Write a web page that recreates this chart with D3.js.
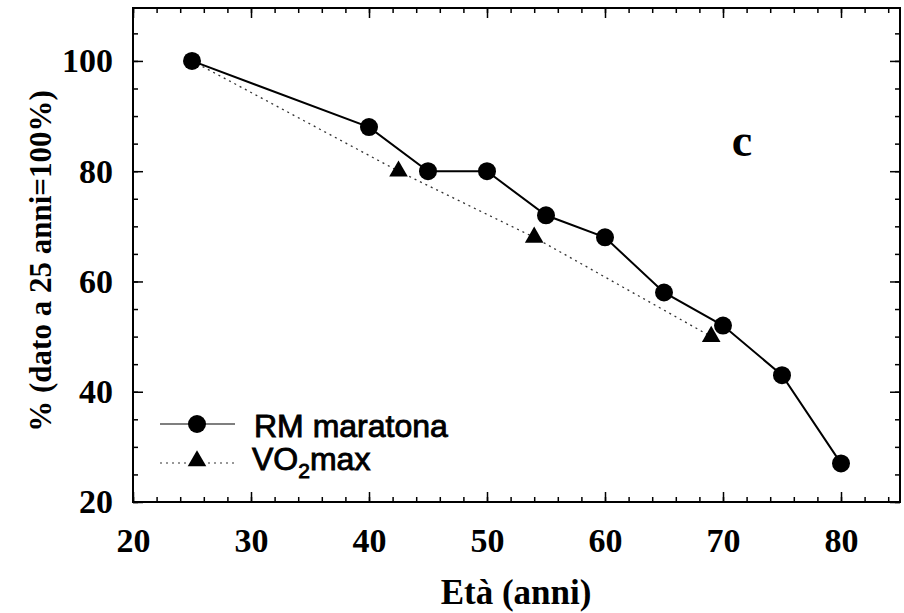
<!DOCTYPE html>
<html>
<head>
<meta charset="utf-8">
<script src="https://cdn.jsdelivr.net/npm/d3@7"></script>
<style>
  body { margin: 0; background: #fff; }
  svg { display: block; }
  .tick text { font-family: "Liberation Serif", "DejaVu Serif", serif; font-weight: bold; }
</style>
</head>
<body>
<div id="chart"></div>
<script>
// marathon record (circles, solid line)
const rmAge = [25, 40, 45, 50, 55, 60, 65, 70, 75, 80];
const rmPct = [100, 88, 80, 80, 72, 68, 58, 52, 43, 27];
// VO2max (triangles, dotted line)
const voAge = [25, 42.5, 54, 69];
const voPct = [100, 80, 68, 50];

const xTicks = [20, 30, 40, 50, 60, 70, 80];
const yTicks = [20, 40, 60, 80, 100];

const svgWidth = 904, svgHeight = 613;
const margin = { top: 8, right: 4, bottom: 111, left: 133 };
const width = svgWidth - margin.left - margin.right;
const height = svgHeight - margin.top - margin.bottom;

const svg = d3.select("#chart").append("svg")
    .attr("width", svgWidth)
    .attr("height", svgHeight);

const g = svg.append("g")
    .attr("transform", `translate(${margin.left},${margin.top})`);

const x = d3.scaleLinear().domain([20, 85]).range([0, width]);
const y = d3.scaleLinear().domain([20, 109.6]).range([height, 0]);

// minor ticks, inward on all four sides
const xMinor = d3.range(20, 86, 2);
const yMinor = d3.range(20, 110, 5);

function ticks(axisFn, scale, vals, len) {
    return axisFn(scale).tickValues(vals).tickSize(len).tickFormat("");
}

g.append("g").attr("transform", `translate(0,${height})`)
    .call(ticks(d3.axisTop, x, xMinor, 5));
g.append("g")
    .call(ticks(d3.axisBottom, x, xMinor, 5));
g.append("g")
    .call(ticks(d3.axisRight, y, yMinor, 5));
g.append("g").attr("transform", `translate(${width},0)`)
    .call(ticks(d3.axisLeft, y, yMinor, 5));

// major ticks
g.append("g").attr("transform", `translate(0,${height})`)
    .call(ticks(d3.axisTop, x, xTicks, 10));
g.append("g")
    .call(ticks(d3.axisBottom, x, xTicks, 10));
g.append("g")
    .call(ticks(d3.axisRight, y, yTicks, 10));
g.append("g").attr("transform", `translate(${width},0)`)
    .call(ticks(d3.axisLeft, y, yTicks, 10));

g.selectAll(".domain").remove();
g.selectAll(".tick line").attr("stroke", "#000").attr("stroke-width", 1.5);

// frame
g.append("rect")
    .attr("width", width).attr("height", height)
    .attr("fill", "none").attr("stroke", "#000").attr("stroke-width", 2);

// tick labels
const xLab = g.append("g").attr("transform", `translate(0,${height})`)
    .call(d3.axisBottom(x).tickValues(xTicks).tickSize(0).tickPadding(26));
xLab.select(".domain").remove();
xLab.selectAll("text").attr("font-size", 34).attr("fill", "#000");

const yLab = g.append("g")
    .call(d3.axisLeft(y).tickValues(yTicks).tickSize(0).tickPadding(20));
yLab.select(".domain").remove();
yLab.selectAll("text").attr("font-size", 34).attr("fill", "#000");

// axis titles
svg.append("text")
    .attr("x", 516).attr("y", 604)
    .attr("text-anchor", "middle")
    .attr("font-family", "Liberation Serif, serif").attr("font-weight", "bold")
    .attr("font-size", 35)
    .text("Età (anni)");

svg.append("text")
    .attr("transform", "translate(51,261) rotate(-90)")
    .attr("text-anchor", "middle")
    .attr("font-family", "Liberation Serif, serif").attr("font-weight", "bold")
    .attr("font-size", 31)
    .text("% (dato a 25 anni=100%)");

// panel letter
svg.append("text")
    .attr("x", 742).attr("y", 156)
    .attr("text-anchor", "middle")
    .attr("font-family", "Liberation Serif, serif").attr("font-weight", "bold")
    .attr("font-size", 46)
    .text("c");

const rm = rmAge.map((a, i) => ({ a, v: rmPct[i] }));
const vo = voAge.map((a, i) => ({ a, v: voPct[i] }));
const line = d3.line().x(d => x(d.a)).y(d => y(d.v));
const tri = d3.symbol().type(d3.symbolTriangle).size(150);

// VO2max dotted line
g.append("path").datum(vo)
    .attr("d", line)
    .attr("fill", "none").attr("stroke", "#333")
    .attr("stroke-width", 1.3).attr("stroke-dasharray", "2,4");

// marathon solid line
g.append("path").datum(rm)
    .attr("d", line)
    .attr("fill", "none").attr("stroke", "#000").attr("stroke-width", 2);

g.selectAll(".tri").data(vo.slice(1)).enter().append("path")
    .attr("class", "tri")
    .attr("transform", d => `translate(${x(d.a)},${y(d.v)})`)
    .attr("d", tri).attr("fill", "#000");

g.selectAll(".dot").data(rm).enter().append("circle")
    .attr("class", "dot")
    .attr("cx", d => x(d.a)).attr("cy", d => y(d.v))
    .attr("r", 9).attr("fill", "#000");

// legend
const leg = svg.append("g");
leg.append("line").attr("x1", 160).attr("x2", 235).attr("y1", 424).attr("y2", 424)
    .attr("stroke", "#000").attr("stroke-width", 1.2);
leg.append("circle").attr("cx", 197).attr("cy", 424).attr("r", 9).attr("fill", "#000");
leg.append("text").attr("x", 254).attr("y", 437)
    .attr("font-family", "Liberation Sans, Arial, sans-serif").attr("font-size", 32)
    .attr("stroke", "#000").attr("stroke-width", 0.9)
    .text("RM maratona");

leg.append("line").attr("x1", 160).attr("x2", 235).attr("y1", 463).attr("y2", 463)
    .attr("stroke", "#333").attr("stroke-width", 1.2).attr("stroke-dasharray", "2,4");
leg.append("path").attr("transform", "translate(197,461)").attr("d", tri).attr("fill", "#000");
const voText = leg.append("text").attr("x", 252).attr("y", 470)
    .attr("font-family", "Liberation Sans, Arial, sans-serif").attr("font-size", 32)
    .attr("stroke", "#000").attr("stroke-width", 0.9);
voText.append("tspan").text("VO");
voText.append("tspan").attr("font-size", 21).attr("dy", 8).text("2");
voText.append("tspan").attr("dy", -8).text("max");
</script>
</body>
</html>
